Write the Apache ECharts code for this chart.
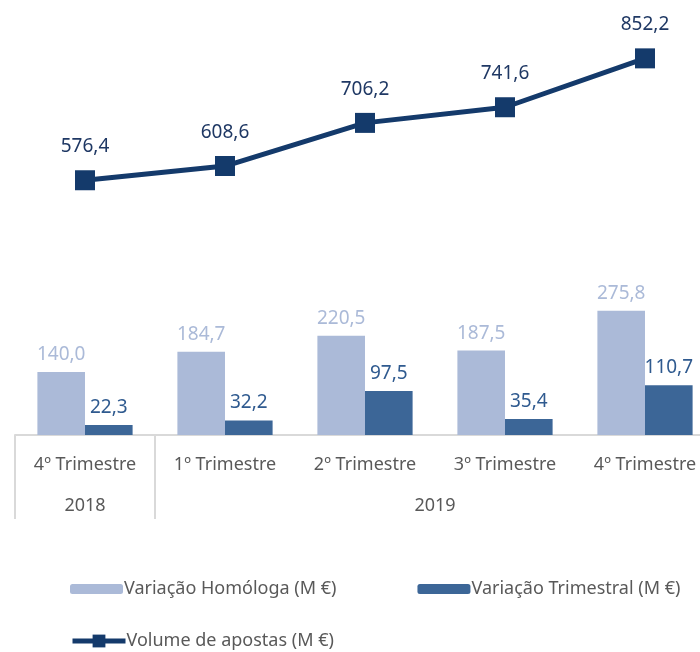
<!DOCTYPE html>
<html>
<head>
<meta charset="utf-8">
<script src="https://cdn.jsdelivr.net/npm/echarts@6/dist/echarts.min.js"></script>
<style>
  html, body { margin: 0; padding: 0; background: #fff; }
  #chart { width: 700px; height: 652px; }
</style>
</head>
<body>
<div id="chart"></div>
<script>
const categories = ['4º Trimestre', '1º Trimestre', '2º Trimestre', '3º Trimestre', '4º Trimestre'];
const years = ['2018', '2019'];
const homologa = [140.0, 184.7, 220.5, 187.5, 275.8];
const trimestral = [22.3, 32.2, 97.5, 35.4, 110.7];
const volume = [576.4, 608.6, 706.2, 741.6, 852.2];

const FONT = 'Noto Sans';
const fmt = (p) => Number(p.value).toFixed(1).replace('.', ',');

const chart = echarts.init(document.getElementById('chart'));
chart.setOption({
  animation: false,
  textStyle: { fontFamily: FONT },
  grid: { left: 15, width: 700, top: 20, bottom: 217, containLabel: false, outerBoundsMode: 'none' },
  legend: [
    {
      left: 70, top: 580, padding: 0,
      itemWidth: 53, itemHeight: 10, itemGap: 81,
      textStyle: { color: '#595959', fontSize: 18, fontFamily: FONT, padding: [0, 0, 0, -4] },
      data: ['Variação Homóloga (M €)', 'Variação Trimestral (M €)'],
    },
    {
      left: 70, top: 632, padding: 0,
      itemWidth: 53, itemHeight: 16,
      lineStyle: { width: 5 },
      textStyle: { color: '#595959', fontSize: 18, fontFamily: FONT, padding: [0, 0, 0, -4] },
      data: ['Volume de apostas (M €)'],
    },
  ],
  xAxis: [
    {
      type: 'category',
      data: categories,
      axisLine: { lineStyle: { color: '#d9d9d9', width: 2 } },
      axisTick: { show: false },
      axisLabel: { color: '#595959', fontSize: 18, margin: 21 },
    },
    {
      type: 'value',
      position: 'bottom',
      min: 0, max: 5,
      axisLine: { show: false },
      splitLine: { show: false },
      axisTick: { show: true, customValues: [0, 1, 5], length: 84, lineStyle: { color: '#d9d9d9', width: 2 } },
      axisLabel: {
        customValues: [0.5, 3],
        color: '#595959', fontSize: 18, margin: 62,
        formatter: (v) => (v < 1 ? years[0] : years[1]),
      },
    },
  ],
  yAxis: [
    { type: 'value', min: 0, max: 922, show: false },
    { type: 'value', min: 0, max: 939, show: false },
  ],
  series: [
    {
      name: 'Variação Homóloga (M €)',
      type: 'bar',
      data: homologa,
      barGap: '0%',
      barCategoryGap: '32%',
      itemStyle: { color: '#abbad8' },
      label: { show: true, position: 'top', distance: 8, color: '#abbad8', fontSize: 19, formatter: fmt },
    },
    {
      name: 'Variação Trimestral (M €)',
      type: 'bar',
      data: trimestral,
      barGap: '0%',
      barCategoryGap: '32%',
      itemStyle: { color: '#3c6697' },
      label: { show: true, position: 'top', distance: 8, color: '#2f5a8f', fontSize: 19, formatter: fmt },
    },
    {
      name: 'Volume de apostas (M €)',
      type: 'line',
      yAxisIndex: 1,
      data: volume,
      symbol: 'rect',
      symbolSize: 20,
      lineStyle: { color: '#143a6b', width: 5 },
      itemStyle: { color: '#143a6b' },
      label: { show: true, position: 'top', distance: 14, color: '#1f3864', fontSize: 19, formatter: fmt },
    },
  ],
});
</script>
</body>
</html>
